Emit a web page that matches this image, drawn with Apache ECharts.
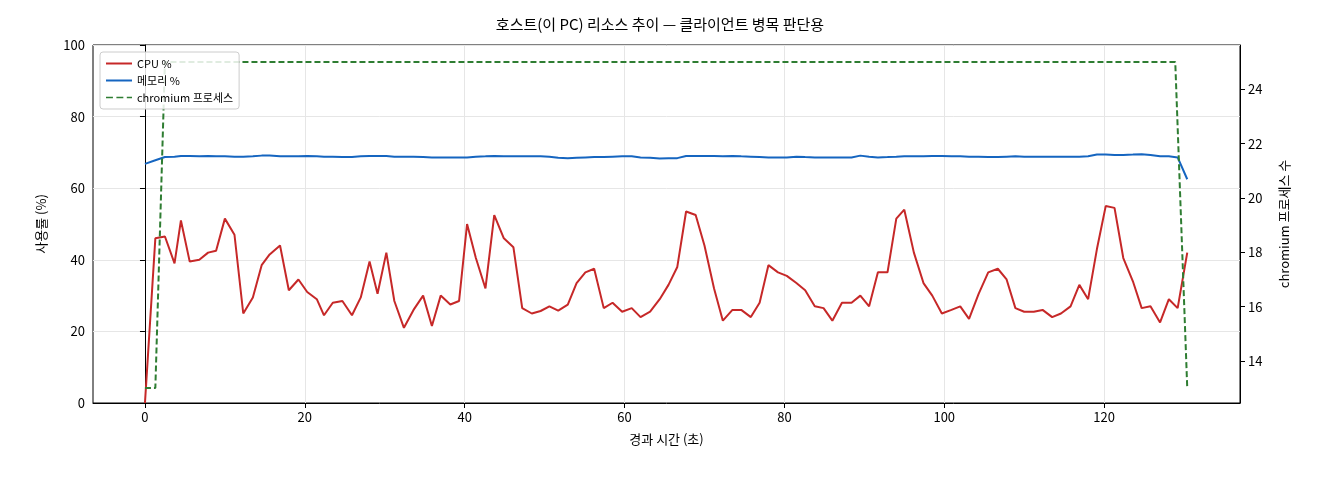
<!DOCTYPE html>
<html><head><meta charset="utf-8">
<script src="https://cdn.jsdelivr.net/npm/echarts@6/dist/echarts.min.js"></script>
<style>html,body{margin:0;padding:0;background:#fff}#c{width:1320px;height:480px}</style>
</head><body><div id="c"></div>
<script>
const times=[0,1.3,2.5,3.7,4.5,5.6,6.8,7.9,8.9,10,11.2,12.3,13.5,14.6,15.6,16.9,18,19.2,20.3,21.5,22.4,23.5,24.7,25.9,27,28.1,29.1,30.2,31.2,32.4,33.6,34.8,35.9,37,38.2,39.3,40.3,41.4,42.6,43.7,44.9,46.1,47.2,48.4,49.5,50.6,51.7,52.9,54,55.1,56.2,57.4,58.5,59.7,60.9,62,63.2,64.4,65.5,66.6,67.7,68.9,70,71.2,72.3,73.5,74.6,75.8,76.9,78,79.2,80.3,81.5,82.6,83.8,84.9,86,87.2,88.4,89.5,90.6,91.7,92.9,94,95,96.2,97.4,98.5,99.7,100.9,102,103.1,104.3,105.5,106.7,107.8,108.9,110,111.2,112.3,113.5,114.6,115.8,116.9,118,119.1,120.2,121.3,122.4,123.6,124.7,125.8,127,128.1,129.2,130.4];
const cpu=[0,46,46.5,39,51,39.5,40,42,42.5,51.5,47,25,29.5,38.5,41.5,44,31.5,34.5,31,29,24.5,28,28.5,24.5,29.5,39.5,30.5,42,28.5,21,26,30,21.5,30,27.5,28.5,50,40.5,32,52.5,46,43.5,26.5,25,25.7,27,25.8,27.5,33.5,36.5,37.5,26.5,28,25.5,26.5,24,25.5,29,33,38,53.5,52.5,44,32,23,26,26,24,28,38.5,36.5,35.5,33.5,31.5,27,26.5,23,28,28,30,27,36.5,36.5,51.5,54,42,33.5,30,25,26,27,23.5,30.5,36.5,37.5,34.5,26.5,25.5,25.5,26,24,25,27,33,29,43,55,54.5,40.5,34,26.5,27,22.5,29,26.5,42];
const mem=[66.8,67.8,68.7,68.8,69,69,68.9,69,68.9,68.9,68.8,68.8,68.9,69.1,69.1,68.9,68.9,68.9,69,68.9,68.8,68.8,68.7,68.7,68.9,69,69,69,68.8,68.8,68.8,68.7,68.6,68.6,68.6,68.6,68.6,68.8,68.9,69,68.9,68.9,68.9,68.9,68.9,68.8,68.5,68.4,68.5,68.6,68.7,68.7,68.8,68.9,68.9,68.6,68.5,68.3,68.4,68.4,69,69,69,69,68.9,69,68.9,68.8,68.7,68.6,68.6,68.6,68.8,68.7,68.6,68.6,68.6,68.6,68.6,69.1,68.8,68.6,68.7,68.8,68.9,68.9,68.9,69,69,68.9,68.9,68.8,68.8,68.7,68.7,68.8,68.9,68.8,68.8,68.8,68.8,68.8,68.8,68.8,68.9,69.4,69.4,69.3,69.3,69.4,69.5,69.3,68.9,68.9,68.6,62.5];
const procT=[0,1.3,2.5,128.9,130.4];
const procN=[13,13,25,25,13];
const xTicks=[0,20,40,60,80,100,120];
const y2Ticks=[14,16,18,20,22,24];
const zip=(a,b)=>a.map((v,i)=>[v,b[i]]);
const font='"Noto Sans CJK KR","DejaVu Sans",sans-serif';
const ax={color:'#000'};
const chart=echarts.init(document.getElementById('c'));
chart.setOption({
 animation:false,
 textStyle:{fontFamily:font},
 title:{text:'호스트(이 PC) 리소스 추이 — 클라이언트 병목 판단용',left:'center',top:12,textStyle:{fontSize:15,fontWeight:'normal',color:'#000',fontFamily:font}},
 grid:{left:93,right:80,top:45,bottom:77,show:true,borderColor:'#000',borderWidth:1},
 legend:{left:100,top:52,orient:'vertical',itemGap:6,itemWidth:26,itemHeight:2,backgroundColor:'rgba(255,255,255,0.85)',borderColor:'#ccc',borderWidth:1,borderRadius:3,padding:[6,6],textStyle:{fontSize:11,color:'#000'},
  data:[{name:'CPU %',icon:'rect'},{name:'메모리 %',icon:'rect'},{name:'chromium 프로세스',icon:'path://M0,0H8V2H0Z M12,0H20V2H12Z M24,0H30V2H24Z'}]},
 xAxis:{type:'value',min:-6.5,max:137,name:'경과 시간 (초)',nameLocation:'middle',nameGap:30,nameTextStyle:{fontSize:13,color:'#000'},
  axisLine:{lineStyle:ax},axisTick:{customValues:xTicks,length:5,lineStyle:ax},axisLabel:{customValues:xTicks,fontSize:13,color:'#000'},
  splitLine:{show:true,lineStyle:{color:'#e6e6e6'}}},
 yAxis:[{type:'value',min:0,max:100,interval:20,name:'사용률 (%)',nameLocation:'middle',nameGap:45,nameTextStyle:{fontSize:13,color:'#000'},
  axisLine:{show:true,lineStyle:ax},axisTick:{show:true,length:5,lineStyle:ax},axisLabel:{fontSize:13,color:'#000'},splitLine:{lineStyle:{color:'#e6e6e6'}}},
  {type:'value',min:12.45,max:25.63,name:'chromium 프로세스 수',nameLocation:'middle',nameGap:38,nameRotate:90,nameTextStyle:{fontSize:13,color:'#000'},
  axisLine:{show:true,lineStyle:ax},axisTick:{show:true,customValues:y2Ticks,length:5,lineStyle:ax},axisLabel:{customValues:y2Ticks,fontSize:13,color:'#000'},splitLine:{show:false}}],
 series:[
  {name:'CPU %',type:'line',data:zip(times,cpu),showSymbol:false,lineStyle:{color:'#c62828',width:2},itemStyle:{color:'#c62828'}},
  {name:'메모리 %',type:'line',data:zip(times,mem),showSymbol:false,lineStyle:{color:'#1565c0',width:2},itemStyle:{color:'#1565c0'}},
  {name:'chromium 프로세스',type:'line',yAxisIndex:1,data:zip(procT,procN),showSymbol:false,lineStyle:{color:'#2e7d32',width:2,type:[6,3]},itemStyle:{color:'#2e7d32'}}
 ]
});
</script></body></html>
